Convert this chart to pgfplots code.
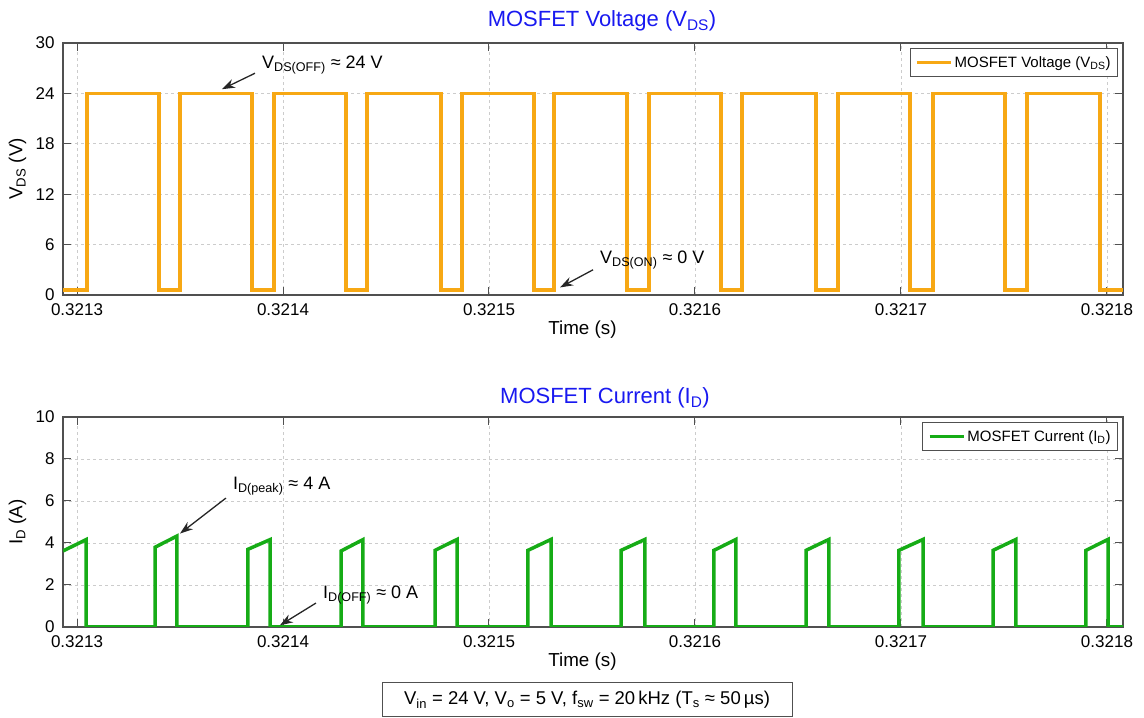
\documentclass[border=0pt]{standalone}
\usepackage{pgfplots}
\pgfplotsset{compat=1.18}
\usepackage{fontspec}
\setmainfont{Liberation Sans}
\usetikzlibrary{arrows.meta}
\definecolor{vdsorange}{RGB}{247,168,20}
\definecolor{idgreen}{RGB}{22,172,22}
\definecolor{titleblue}{RGB}{25,25,240}
\definecolor{axgray}{RGB}{80,80,80}

\pgfplotsset{
  myax/.style={
    scale only axis,
    width=1060pt,
    anchor=south west,
    xmin=-6.8, xmax=507.8,
    xtick={0,100,200,300,400,500},
    xticklabels={0.3213,0.3214,0.3215,0.3216,0.3217,0.3218},
    /pgf/number format/assume math mode=true,
    tick label style={font=\fontsize{17}{20}\selectfont},
    xticklabel style={yshift=-5pt},
    yticklabel style={xshift=-5pt},
    label style={font=\fontsize{18.8}{22}\selectfont},
    axis line style={axgray, line width=1.3pt},
    tick style={axgray, line width=1pt},
    major tick length=8pt,
    grid=major,
    major grid style={dashed, gray!40, line width=0.8pt},
    legend style={font=\fontsize{15}{18}\selectfont, draw=axgray, line width=1pt,
      at={(1,1)}, xshift=-5pt, yshift=-5pt, anchor=north east,
      inner xsep=5pt, inner ysep=6pt},
    legend cell align=left,
    legend image code/.code={\draw[#1, line width=3.5pt] (0pt,0pt) -- (34pt,0pt);},
    xlabel={Time (s)},
  }
}

\begin{document}
\begin{tikzpicture}
\path[use as bounding box] (0,0) rectangle (1144pt,718pt);

% ---------------- Top: MOSFET Voltage ----------------
\begin{axis}[myax,
  at={(63pt,423pt)},
  height=252pt,
  ymin=0, ymax=30,
  ytick={0,6,12,18,24,30},
  ylabel={V\textsubscript{DS} (V)},
  ylabel style={at={(axis description cs:-0.043,0.5)}, anchor=center, rotate=0},
  xlabel style={at={(axis description cs:0.49,-0.139)}, anchor=center},
]
\addplot[vdsorange, line width=3.5pt, line join=miter] coordinates {
(-6.8,0.6) (4.85,0.6) (4.85,24)
(39.8,24) (39.8,0.6) (50.0,0.6) (50.0,24)
(84.95,24) (84.95,0.6) (95.6,0.6) (95.6,24)
(130.6,24) (130.6,0.6) (140.8,0.6) (140.8,24)
(176.7,24) (176.7,0.6) (186.9,0.6) (186.9,24)
(221.8,24) (221.8,0.6) (231.6,0.6) (231.6,24)
(267.0,24) (267.0,0.6) (277.7,0.6) (277.7,24)
(312.6,24) (312.6,0.6) (322.8,0.6) (322.8,24)
(358.7,24) (358.7,0.6) (369.4,0.6) (369.4,24)
(404.4,24) (404.4,0.6) (415.5,0.6) (415.5,24)
(450.5,24) (450.5,0.6) (461.2,0.6) (461.2,24)
(496.6,24) (496.6,0.6) (507.8,0.6)
};
\addlegendentry{MOSFET Voltage (V\textsubscript{DS})}
\node[anchor=west, font=\fontsize{18}{21}\selectfont, inner sep=0pt] at (axis cs:89.8,27.4) {V\textsubscript{DS(OFF)} ≈ 24 V};
\draw[-{Stealth[length=13pt,width=9pt]}, line width=1.3pt, black!85] (axis cs:86.4,26.4) -- (axis cs:70.4,24.5);
\node[anchor=west, font=\fontsize{18}{21}\selectfont, inner sep=0pt] at (axis cs:253.9,4.2) {V\textsubscript{DS(ON)} ≈ 0 V};
\draw[-{Stealth[length=13pt,width=9pt]}, line width=1.3pt, black!85] (axis cs:250.5,3.0) -- (axis cs:234.5,0.9);
\end{axis}
\node[font=\fontsize{22}{26}\selectfont, text=titleblue] at (602pt,697pt) {MOSFET Voltage (V\textsubscript{DS})};

% ---------------- Bottom: MOSFET Current ----------------
\begin{axis}[myax,
  at={(63pt,91pt)},
  height=210pt,
  ymin=0, ymax=10,
  ytick={0,2,4,6,8,10},
  ylabel={I\textsubscript{D} (A)},
  ylabel style={at={(axis description cs:-0.043,0.5)}, anchor=center, rotate=0},
  xlabel style={at={(axis description cs:0.49,-0.167)}, anchor=center},
]
\addplot[idgreen, line width=3.5pt, line join=miter] coordinates {
(-6.8,3.62) (4.4,4.16) (4.4,0)
(37.9,0) (37.9,3.8) (48.5,4.33) (48.5,0)
(83.0,0) (83.0,3.7) (93.7,4.16) (93.7,0)
(128.2,0) (128.2,3.62) (138.8,4.16) (138.8,0)
(173.8,0) (173.8,3.65) (184.5,4.17) (184.5,0)
(218.9,0) (218.9,3.65) (230.1,4.17) (230.1,0)
(264.1,0) (264.1,3.65) (275.7,4.17) (275.7,0)
(309.2,0) (309.2,3.65) (319.9,4.17) (319.9,0)
(353.9,0) (353.9,3.65) (365.0,4.17) (365.0,0)
(399.0,0) (399.0,3.65) (410.7,4.17) (410.7,0)
(444.7,0) (444.7,3.65) (455.8,4.17) (455.8,0)
(489.8,0) (489.8,3.65) (500.5,4.17) (500.5,0)
(507.8,0)
};
\addlegendentry{MOSFET Current (I\textsubscript{D})}
\node[anchor=west, font=\fontsize{18}{21}\selectfont, inner sep=0pt] at (axis cs:75.7,6.71) {I\textsubscript{D(peak)} ≈ 4 A};
\draw[-{Stealth[length=13pt,width=9pt]}, line width=1.3pt, black!85] (axis cs:72.3,6.14) -- (axis cs:50.0,4.45);
\node[anchor=west, font=\fontsize{18}{21}\selectfont, inner sep=0pt] at (axis cs:119.4,1.52) {I\textsubscript{D(OFF)} ≈ 0 A};
\draw[-{Stealth[length=13pt,width=9pt]}, line width=1.3pt, black!85] (axis cs:116.0,1.14) -- (axis cs:98.5,0.08);
\end{axis}
\node[font=\fontsize{22}{26}\selectfont, text=titleblue] at (605pt,320pt) {MOSFET Current (I\textsubscript{D})};

% ---------------- Parameter box ----------------
\node[draw=axgray, line width=1pt, fill=white, minimum width=410pt, minimum height=34pt,
      font=\fontsize{18.5}{22}\selectfont] at (587pt,18pt)
  {V\textsubscript{in} = 24 V, V\textsubscript{o} = 5 V, f\textsubscript{sw} = 20\,kHz (T\textsubscript{s} ≈ 50\,µs)};
\end{tikzpicture}
\end{document}
